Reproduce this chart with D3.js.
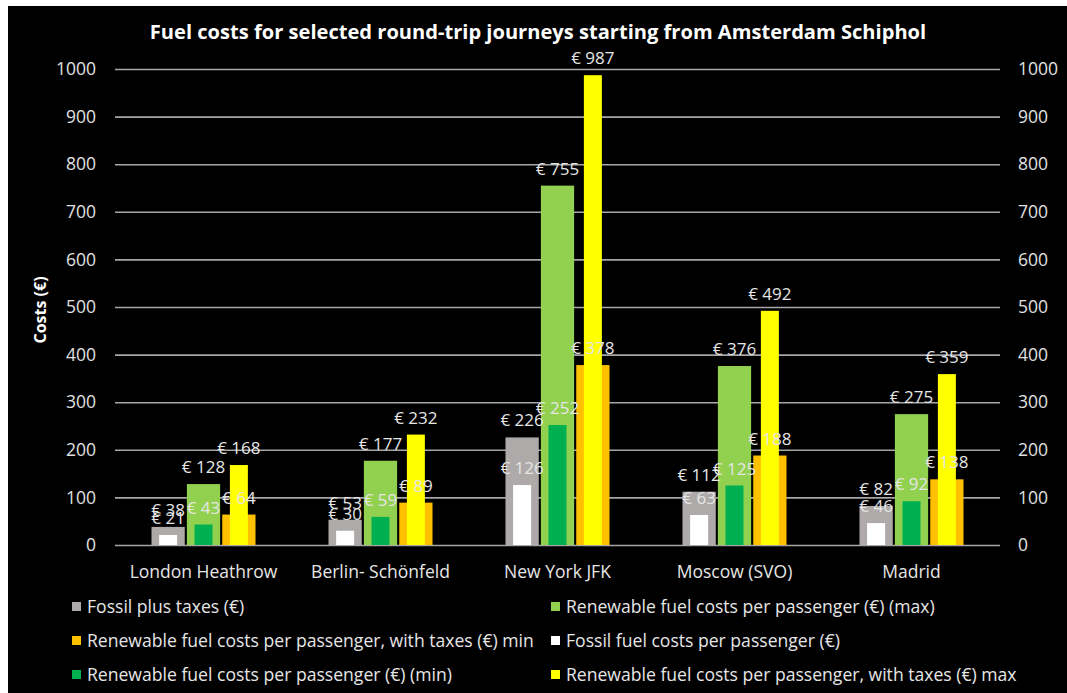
<!DOCTYPE html>
<html><head><meta charset="utf-8">
<script src="https://cdn.jsdelivr.net/npm/d3@7"></script>
<style>body{margin:0;background:#fff}svg{display:block}</style>
</head><body>
<svg id="c" width="1067" height="693"></svg>
<script>
const categories = ["London Heathrow", "Berlin- Schönfeld", "New York JFK", "Moscow (SVO)", "Madrid"];
const fossilPlusTaxes = [38, 53, 226, 112, 82];
const fossilFuel = [21, 30, 126, 63, 46];
const renewMax = [128, 177, 755, 376, 275];
const renewMin = [43, 59, 252, 125, 92];
const renewTaxMin = [64, 89, 378, 188, 138];
const renewTaxMax = [168, 232, 987, 492, 359];
const yTicks = [0, 100, 200, 300, 400, 500, 600, 700, 800, 900, 1000];
const title = "Fuel costs for selected round-trip journeys starting from Amsterdam Schiphol";
const yTitle = "Costs (€)";
const legendItems = [
  ["Fossil plus taxes (€)", "#aeaaaa"],
  ["Renewable fuel costs per passenger (€) (max)", "#92d050"],
  ["Renewable fuel costs per passenger, with taxes (€) min", "#ffc000"],
  ["Fossil fuel costs per passenger (€)", "#ffffff"],
  ["Renewable fuel costs per passenger (€) (min)", "#00b050"],
  ["Renewable fuel costs per passenger, with taxes (€) max", "#ffff00"]
];

const FONT = "'Open Sans', sans-serif";
const svg = d3.select("#c");
svg.append("rect").attr("x", 8).attr("y", 6).attr("width", 1059).attr("height", 687).attr("fill", "#000");

function fit(sel, target) {
  const w = sel.node().getComputedTextLength();
  const fs = parseFloat(sel.attr("font-size"));
  sel.attr("font-size", fs * target / w);
  return fs * target / w;
}

const x = d3.scaleBand().domain(categories).range([115, 1000]);
const y = d3.scaleLinear().domain([0, 1000]).range([545, 69]);
const groupW = 104;
const slot = d3.scaleBand().domain([0, 1, 2]).range([0, groupW]).paddingInner(0.06);
const off = (x.bandwidth() - groupW) / 2;

// gridlines + left axis
const gl = svg.append("g").attr("transform", "translate(115,0)")
  .call(d3.axisLeft(y).tickValues(yTicks).tickSize(-885).tickPadding(19).tickFormat(d3.format("d")));
gl.select(".domain").remove();
gl.selectAll(".tick line").attr("stroke", "#a6a6a6").attr("stroke-width", 1.6);
gl.selectAll(".tick text").attr("fill", "#e0e0e0").attr("font-family", FONT).attr("font-size", 17.5);
const gr = svg.append("g").attr("transform", "translate(1000,0)")
  .call(d3.axisRight(y).tickValues(yTicks).tickSize(0).tickPadding(18).tickFormat(d3.format("d")));
gr.select(".domain").remove();
gr.selectAll(".tick text").attr("fill", "#e0e0e0").attr("font-family", FONT).attr("font-size", 17.5);

// bars
const series = [
  {vals: fossilPlusTaxes, color: "#aeaaaa", s: 0, wide: true},
  {vals: fossilFuel, color: "#ffffff", s: 0, wide: false},
  {vals: renewMax, color: "#92d050", s: 1, wide: true},
  {vals: renewMin, color: "#00b050", s: 1, wide: false},
  {vals: renewTaxMin, color: "#ffc000", s: 2, wide: true},
  {vals: renewTaxMax, color: "#ffff00", s: 2, wide: false}
];
const narrowW = 18;
function barX(c, s, wide) {
  const base = x(c) + off + slot(s);
  return wide ? base : base + (slot.bandwidth() - narrowW) / 2;
}
series.forEach(se => {
  svg.append("g").selectAll("rect").data(categories).join("rect")
    .attr("x", (c) => barX(c, se.s, se.wide))
    .attr("width", se.wide ? slot.bandwidth() : narrowW)
    .attr("y", (c, i) => y(se.vals[i]))
    .attr("height", (c, i) => y(0) - y(se.vals[i]))
    .attr("fill", se.color);
});
// data labels
series.forEach(se => {
  svg.append("g").selectAll("text").data(categories).join("text")
    .attr("x", c => x(c) + off + slot(se.s) + slot.bandwidth() / 2)
    .attr("y", (c, i) => y(se.vals[i]) - 11)
    .attr("text-anchor", "middle")
    .attr("fill", "#e6e6e6").attr("font-family", FONT).attr("font-size", 17)
    .text((c, i) => "€ " + se.vals[i]);
});

// category labels
svg.append("g").selectAll("text").data(categories).join("text")
  .attr("x", c => x(c) + x.bandwidth() / 2)
  .attr("y", 578)
  .attr("text-anchor", "middle")
  .attr("fill", "#e6e6e6").attr("font-family", FONT).attr("font-size", 17.5)
  .text(c => c);

// title
const t = svg.append("text").attr("x", 538).attr("y", 39).attr("text-anchor", "middle")
  .attr("fill", "#fff").attr("font-family", FONT).attr("font-weight", "bold").attr("font-size", 18)
  .text(title);
fit(t, 777);

// y title
svg.append("text").attr("transform", "translate(46,310) rotate(-90)").attr("text-anchor", "middle")
  .attr("fill", "#fff").attr("font-family", FONT).attr("font-weight", "bold").attr("font-size", 16)
  .text(yTitle);

// legend
const colX = [72, 551];
const rowY = [607, 641, 675];
const lg = svg.append("g");
let fs = 16;
legendItems.forEach((it, i) => {
  const cx = colX[i % 2], cy = rowY[Math.floor(i / 2)];
  lg.append("rect").attr("x", cx).attr("y", cy - 5).attr("width", 9).attr("height", 9).attr("fill", it[1]);
  lg.append("text").attr("class", "lt").attr("x", cx + 15).attr("y", cy + 5.5)
    .attr("fill", "#e6e6e6").attr("font-family", FONT).attr("font-size", 16).text(it[0]);
});
const probe = lg.selectAll(".lt").filter((d, i) => i === 2);
fs = fit(probe, 447);
lg.selectAll(".lt").attr("font-size", fs);
</script>
</body></html>
